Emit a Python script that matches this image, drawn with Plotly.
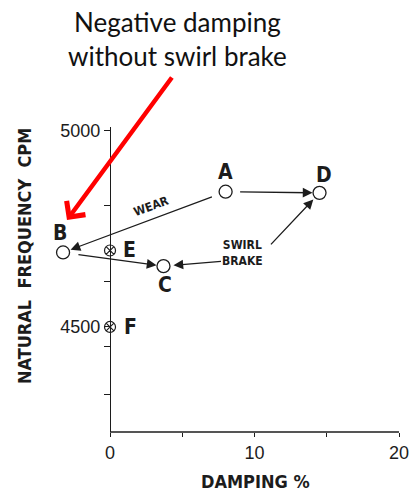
import plotly.graph_objects as go

# Operating points: damping (%) vs. natural frequency (CPM)
labels = ["A", "B", "C", "D"]
damping_pct = [8.0, -3.25, 3.7, 14.5]
freq_cpm = [4845, 4690, 4655, 4842]

# Points on the zero-damping line
ref_labels = ["E", "F"]
ref_damping = [0.0, 0.0]
ref_freq = [4695, 4500]

x_ticks = [0, 5, 10, 15, 20]
x_tick_text = ["0", "", "10", "", "20"]
y_ticks = [4327, 4449, 4500, 4617, 4811, 5000]
y_tick_text = ["", "", "4500", "", "", "5000"]

X_MIN, X_MAX = -4.5, 20
Y_MIN, Y_MAX = 4232, 5010

INK = "#1c1c1c"
NARROW = "Liberation Sans Narrow, Arial Narrow, DejaVu Sans Condensed, sans-serif"
PLAIN = "Liberation Sans, Arial, Helvetica, sans-serif"

pos = dict(zip(labels + ref_labels,
               zip(damping_pct + ref_damping, freq_cpm + ref_freq)))

fig = go.Figure()
fig.add_trace(go.Scatter(
    x=damping_pct, y=freq_cpm, mode="markers", cliponaxis=False,
    hoverinfo="skip", showlegend=False,
    marker=dict(symbol="circle-open", size=13, color=INK,
                line=dict(width=1.3, color=INK)),
))
fig.add_trace(go.Scatter(
    x=ref_damping, y=ref_freq, mode="markers", cliponaxis=False,
    hoverinfo="skip", showlegend=False,
    marker=dict(symbol="circle-x-open", size=11, color=INK,
                line=dict(width=1.2, color=INK)),
))

annotations = []

# Point letters, offset in pixels from each marker
label_shift = {"A": (0, 20), "B": (-3, 19), "C": (2, -19),
               "D": (4, 18), "E": (19, 0), "F": (20, 0)}
for name, (dx, dy) in label_shift.items():
    x, y = pos[name]
    annotations.append(dict(
        x=x, y=y, xref="x", yref="y", text=name, showarrow=False,
        xshift=dx, yshift=dy, xanchor="center", yanchor="middle",
        font=dict(family=NARROW, size=21, color=INK, weight="bold"),
    ))

# Transitions between operating points
moves = [("A", "B", 13, 8), ("A", "D", 13, 7), ("B", "C", 14, 7)]
for src, dst, s0, s1 in moves:
    annotations.append(dict(
        x=pos[dst][0], y=pos[dst][1], ax=pos[src][0], ay=pos[src][1],
        xref="x", yref="y", axref="x", ayref="y", text="",
        showarrow=True, arrowhead=2, arrowsize=1.5, arrowwidth=1.3,
        arrowcolor=INK, standoff=s1, startstandoff=s0,
    ))

# "SWIRL BRAKE" callout arrows (tail offsets in pixels from the target)
for dst, ax, ay, so in [("D", -50, 53, 9), ("C", 59, -5, 10)]:
    annotations.append(dict(
        x=pos[dst][0], y=pos[dst][1], xref="x", yref="y",
        ax=ax, ay=ay, text="", showarrow=True, arrowhead=2,
        arrowsize=1.5, arrowwidth=1.3, arrowcolor=INK, standoff=so,
    ))

annotations += [
    dict(x=2.9, y=4809, xref="x", yref="y", text="WEAR", showarrow=False,
         textangle=-20, font=dict(family=NARROW, size=12, color=INK, weight="bold")),
    dict(x=9.2, y=4689, xref="x", yref="y", text="SWIRL<br>BRAKE",
         showarrow=False, align="center",
         font=dict(family=NARROW, size=12, color=INK, weight="bold")),
    # axis titles
    dict(x=0.596, y=-0.161, xref="paper", yref="paper", text="DAMPING %",
         xanchor="center", yanchor="middle", showarrow=False,
         font=dict(family=NARROW, size=18, color=INK, weight="bold")),
    dict(x=-0.0593, y=0.577, xref="paper", yref="paper",
         text="NATURAL\u00a0\u00a0FREQUENCY\u00a0\u00a0CPM", textangle=-90,
         xanchor="center", yanchor="middle", showarrow=False,
         font=dict(family=NARROW, size=18, color=INK, weight="bold")),
    # red callout
    dict(x=0.3729, y=1.287, xref="paper", yref="paper",
         text="Negative damping<br>without swirl brake", showarrow=False,
         xanchor="center", yanchor="middle", align="center",
         font=dict(family="Lato, Open Sans, sans-serif", size=26, color="#111111")),
    dict(x=0.0621, y=0.695, xref="paper", yref="paper", ax=106, ay=-144,
         text="", showarrow=True, arrowhead=4, arrowsize=1, arrowwidth=4.5,
         arrowcolor="#ff0000"),
]

# Horizontal axis line only spans the positive damping range
shapes = [dict(type="line", xref="x", yref="y domain",
               x0=x_ticks[0], x1=x_ticks[-1], y0=0, y1=0,
               line=dict(color=INK, width=1.3))]

fig.update_layout(
    width=412, height=493,
    margin=dict(l=45, r=13, t=127, b=61),
    paper_bgcolor="white", plot_bgcolor="white",
    showlegend=False,
    annotations=annotations,
    shapes=shapes,
    xaxis=dict(
        range=[X_MIN, X_MAX], tickvals=x_ticks, ticktext=x_tick_text,
        showgrid=False, zeroline=False, showline=False,
        ticks="outside", ticklen=4, tickcolor=INK,
        tickwidth=1.2, automargin=False,
        tickfont=dict(family=PLAIN, size=18, color=INK),
    ),
    yaxis=dict(
        range=[Y_MIN, Y_MAX], tickvals=y_ticks, ticktext=y_tick_text,
        anchor="free", position=(0 - X_MIN) / (X_MAX - X_MIN),
        showgrid=False, zeroline=False, showline=True, linecolor=INK,
        linewidth=1.3, ticks="outside", ticklen=6, tickcolor=INK,
        tickwidth=1.2, automargin=False,
        tickfont=dict(family=PLAIN, size=18, color=INK),
    ),
)

fig.write_html("out.html")
